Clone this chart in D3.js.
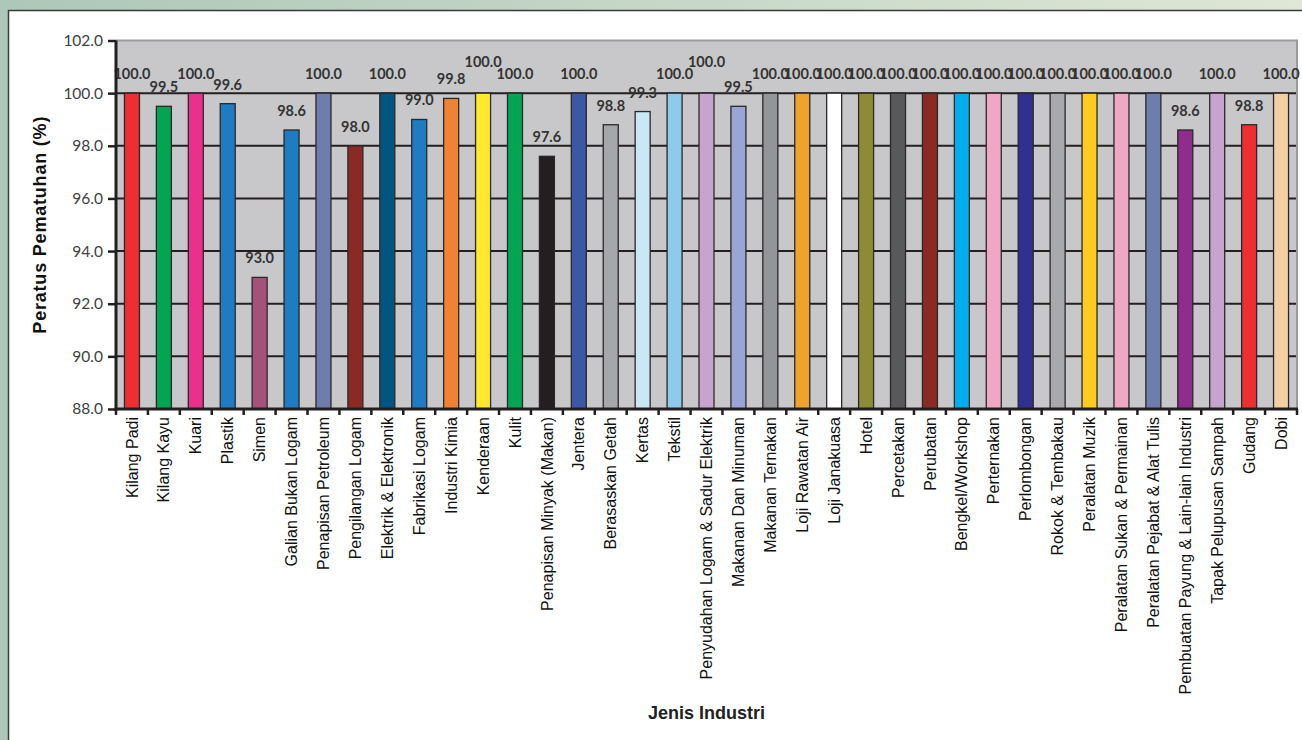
<!DOCTYPE html>
<html>
<head>
<meta charset="utf-8">
<script src="https://cdn.jsdelivr.net/npm/d3@7"></script>
<style>
  html, body { margin: 0; padding: 0; background: #fff; }
  svg { display: block; }
</style>
</head>
<body>
<svg id="chart" width="1302" height="740"></svg>
<script>
// Industry categories and their compliance percentages
const categories = [
  "Kilang Padi", "Kilang Kayu", "Kuari", "Plastik", "Simen",
  "Galian Bukan Logam", "Penapisan Petroleum", "Pengilangan Logam",
  "Elektrik & Elektronik", "Fabrikasi Logam", "Industri Kimia", "Kenderaan",
  "Kulit", "Penapisan Minyak (Makan)", "Jentera", "Berasaskan Getah", "Kertas",
  "Tekstil", "Penyudahan Logam & Sadur Elektrik", "Makanan Dan Minuman",
  "Makanan Ternakan", "Loji Rawatan Air", "Loji Janakuasa", "Hotel",
  "Percetakan", "Perubatan", "Bengkel/Workshop", "Perternakan", "Perlombongan",
  "Rokok & Tembakau", "Peralatan Muzik", "Peralatan Sukan & Permainan",
  "Peralatan Pejabat & Alat Tulis", "Pembuatan Payung & Lain-lain Industri",
  "Tapak Pelupusan Sampah", "Gudang", "Dobi"
];

const values = [
  100.0, 99.5, 100.0, 99.6, 93.0,
  98.6, 100.0, 98.0,
  100.0, 99.0, 99.8, 100.0,
  100.0, 97.6, 100.0, 98.8, 99.3,
  100.0, 100.0, 99.5,
  100.0, 100.0, 100.0, 100.0,
  100.0, 100.0, 100.0, 100.0, 100.0,
  100.0, 100.0, 100.0,
  100.0, 98.6,
  100.0, 98.8, 100.0
];

const barColors = [
  "#ee2e31", "#00a651", "#e8308c", "#1f7bc2", "#a4527a",
  "#1f7bc2", "#6f7dac", "#8b2a25",
  "#005680", "#1f7bc2", "#f18233", "#ffe92b",
  "#00a651", "#231f20", "#3c58a4", "#a5a7aa", "#c9e8f5",
  "#8fc9ec", "#c9a3cf", "#9aa5d6",
  "#939598", "#f0a22e", "#ffffff", "#8c8c34",
  "#58595b", "#8b2a25", "#00aeef", "#f0a7c4", "#2e3192",
  "#a7a9ac", "#ffcb1f", "#f0a7c4",
  "#6d7dac", "#8e2d8e",
  "#c9a3cf", "#ee2e31", "#f4cfa5"
];

const yTickValues = [88, 90, 92, 94, 96, 98, 100, 102];
const yDomain = [88, 102];

// Value labels that sit one line higher to keep clear of their neighbours
const raisedLabels = ["Kenderaan", "Penyudahan Logam & Sadur Elektrik"];

const svg = d3.select("#chart");
const W = 1302, H = 740;

// Page backdrop and framed white panel
const defs = svg.append("defs");
const grad = defs.append("linearGradient").attr("id", "bgGrad")
  .attr("x1", 0).attr("y1", 0).attr("x2", 1).attr("y2", 0);
grad.append("stop").attr("offset", "0%").attr("stop-color", "#adc7b8");
grad.append("stop").attr("offset", "100%").attr("stop-color", "#dfe7d6");
svg.append("rect").attr("width", W).attr("height", H).attr("fill", "url(#bgGrad)");
svg.append("rect")
  .attr("x", 8.5).attr("y", 10.5).attr("width", W + 20).attr("height", H + 20)
  .attr("fill", "#ffffff").attr("stroke", "#3a3a3a").attr("stroke-width", 1.5);

const plot = { left: 116, right: 1297, top: 40.5, bottom: 409 };

const x = d3.scaleBand()
  .domain(categories)
  .range([plot.left, plot.right])
  .paddingInner(0.53)
  .paddingOuter(0.265);

const y = d3.scaleLinear().domain(yDomain).range([plot.bottom, plot.top]);

// Plot background
svg.append("rect")
  .attr("x", plot.left).attr("y", plot.top)
  .attr("width", plot.right - plot.left).attr("height", plot.bottom - plot.top)
  .attr("fill", "#c8c8ca");

// Horizontal gridlines
svg.append("g").selectAll("line")
  .data(yTickValues.filter(v => v > yDomain[0] && v < yDomain[1]))
  .join("line")
  .attr("x1", plot.left).attr("x2", plot.right)
  .attr("y1", d => y(d)).attr("y2", d => y(d))
  .attr("stroke", "#231f20").attr("stroke-width", 2);

// Plot area frame (top and right edges)
svg.append("path")
  .attr("d", `M${plot.left},${y(yDomain[1])}H${plot.right}V${plot.bottom}`)
  .attr("fill", "none").attr("stroke", "#9a9a9c").attr("stroke-width", 2);

// Bars
svg.append("g").selectAll("rect")
  .data(categories)
  .join("rect")
  .attr("x", d => x(d))
  .attr("width", x.bandwidth())
  .attr("y", (d, i) => y(values[i]))
  .attr("height", (d, i) => y(yDomain[0]) - y(values[i]))
  .attr("fill", (d, i) => barColors[i])
  .attr("stroke", "#2b2829").attr("stroke-width", 1.3);

// Value labels above bars
svg.append("g").selectAll("text")
  .data(categories)
  .join("text")
  .attr("x", d => x(d) + x.bandwidth() / 2)
  .attr("y", (d, i) => y(values[i]) - (raisedLabels.includes(d) ? 26 : 14))
  .attr("text-anchor", "middle")
  .attr("font-family", "Lato, 'Open Sans', sans-serif")
  .attr("font-weight", 700)
  .attr("font-size", 14.5)
  .attr("fill", "#333333")
  .text((d, i) => values[i].toFixed(1));

// Y axis
const yAxis = d3.axisLeft(y)
  .tickValues(yTickValues)
  .tickFormat(d3.format(".1f"))
  .tickSize(8)
  .tickPadding(5);
const gy = svg.append("g").attr("transform", `translate(${plot.left},0)`).call(yAxis);
gy.select(".domain").attr("stroke", "#231f20").attr("stroke-width", 3)
  .attr("d", `M0,${plot.top}V${plot.bottom + 1.5}`);
gy.selectAll(".tick line").attr("stroke", "#231f20").attr("stroke-width", 2.5);
gy.selectAll(".tick text")
  .attr("font-family", "Lato, 'Open Sans', sans-serif")
  .attr("font-size", 15.5)
  .attr("fill", "#404040");

// X axis: ticks at category boundaries
const gx = svg.append("g").attr("transform", `translate(0,${plot.bottom})`);
gx.append("line")
  .attr("x1", plot.left - 1.5).attr("x2", plot.right + 1)
  .attr("stroke", "#231f20").attr("stroke-width", 3);
const boundaries = categories.map(d => x(d) - x.step() * x.paddingInner() / 2)
  .concat([plot.right]);
gx.selectAll("line.tick")
  .data(boundaries)
  .join("line")
  .attr("class", "tick")
  .attr("x1", d => d).attr("x2", d => d)
  .attr("y1", 0).attr("y2", 6)
  .attr("stroke", "#231f20").attr("stroke-width", 2.5);

// Rotated category labels
svg.append("g").selectAll("text")
  .data(categories)
  .join("text")
  .attr("transform", d => `translate(${x(d) + x.bandwidth() / 2},${plot.bottom + 8}) rotate(-90)`)
  .attr("dy", "0.35em")
  .attr("text-anchor", "end")
  .attr("font-family", "'Liberation Sans', Arial, sans-serif")
  .attr("font-size", 16)
  .attr("fill", "#111111")
  .text(d => d);

// Axis titles
svg.append("text")
  .attr("transform", `translate(46,${(plot.top + plot.bottom) / 2}) rotate(-90)`)
  .attr("text-anchor", "middle")
  .attr("font-family", "'Liberation Sans', Arial, sans-serif")
  .attr("font-weight", 700)
  .attr("font-size", 18)
  .attr("letter-spacing", 0.8)
  .attr("fill", "#111111")
  .text("Peratus Pematuhan (%)");

svg.append("text")
  .attr("x", (plot.left + plot.right) / 2)
  .attr("y", 719)
  .attr("text-anchor", "middle")
  .attr("font-family", "'Liberation Sans', Arial, sans-serif")
  .attr("font-weight", 700)
  .attr("font-size", 18)
  .attr("fill", "#222222")
  .text("Jenis Industri");
</script>
</body>
</html>
